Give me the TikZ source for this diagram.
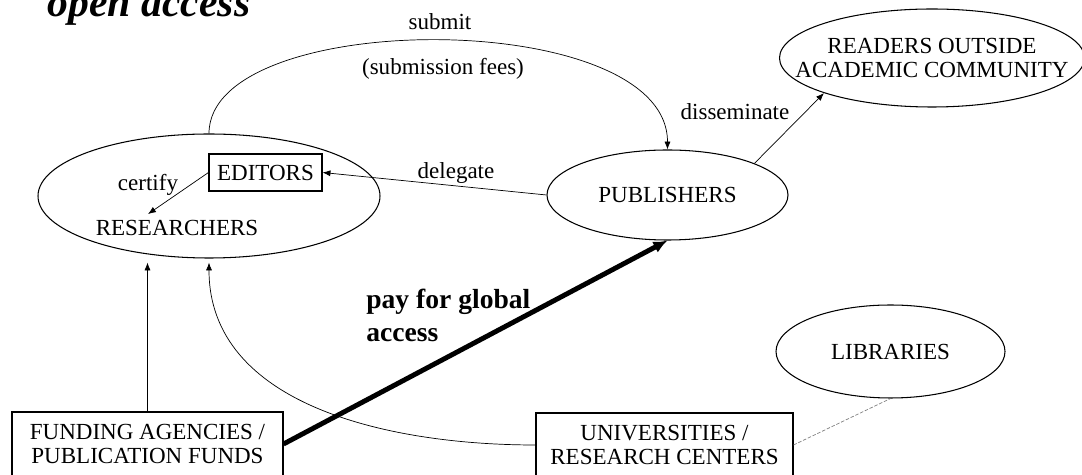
\documentclass[tikz,border=0pt]{standalone}
\usepackage{fontspec}
\setmainfont{Liberation Serif}
\usepackage{tikz}
\usetikzlibrary{shapes.geometric,arrows.meta}

\begin{document}
\begin{tikzpicture}[
    font=\fontsize{13.1}{14.2}\selectfont,
    >={Latex[length=4.5pt,width=3.5pt]},
    oval/.style={ellipse, draw, line width=0.6pt, inner sep=0pt},
    box/.style={rectangle, draw, line width=0.6pt, align=center, inner sep=0pt},
    link/.style={line width=0.4pt},
  ]

  \useasboundingbox (0,0) rectangle (21.64,9.5);

  \node[anchor=base, font=\fontsize{23.7}{26}\selectfont\bfseries\itshape] (title) at (2.98,9.16) {open access};

  % ellipses
  \node[oval, minimum width=6.84cm, minimum height=2.48cm] (res) at (4.18,5.58) {};
  \node (restxt) at (3.54,4.94) {RESEARCHERS};
  \node[box, minimum width=2.26cm, minimum height=0.74cm] (edit) at (5.31,6.05) {EDITORS};
  \node (certlbl) at (2.96,5.8) {certify};

  \node[oval, minimum width=4.82cm, minimum height=1.8cm] (pub) at (13.35,5.6) {PUBLISHERS};
  \node[oval, minimum width=6.1cm, minimum height=1.96cm] (read) at (18.64,8.34) {};
  \node[align=center] (readtxt) at (read) {READERS OUTSIDE\\ACADEMIC COMMUNITY};
  \node[oval, minimum width=4.58cm, minimum height=1.86cm] (lib) at (17.81,2.47) {LIBRARIES};

  % boxes
  \node[box, minimum width=5.42cm, minimum height=1.28cm] (fund) at (2.95,0.62) {FUNDING AGENCIES /\\PUBLICATION FUNDS};
  \node[box, minimum width=5.14cm, minimum height=1.28cm] (univ) at (13.29,0.6) {UNIVERSITIES /\\RESEARCH CENTERS};

  % labels
  \node (submit) at (8.8,9.06) {submit};
  \node (fees) at (8.86,8.12) {(submission fees)};
  \node (dellbl) at (9.12,6.04) {delegate};
  \node (dislbl) at (14.7,7.26) {disseminate};
  \node[anchor=west, inner sep=0pt, align=left, font=\fontsize{15.7}{18.8}\selectfont\bfseries] (paylbl) at (7.32,3.2) {pay for global\\access};

  % connectors
  \draw[link, ->] (edit.west) -- (certlbl |- restxt.north);
  \draw[link, ->] (pub.west) -- (edit.east);
  \draw[link, ->] (res.north) .. controls +(0,2.52) and +(0,2.86) .. (pub.north);
  \draw[link, ->] (pub.20) -- (read.198);
  \draw[link, ->, shorten >=0.08cm] (fund.north) -- (fund.north |- res.south);
  \draw[link, ->, shorten >=0.08cm] (univ.west) to[out=180, in=-90] (res.south);
  \draw[line width=2.8pt, -{Latex[length=8pt,width=7pt]}] (fund.east) -- (pub.south);
  \draw[link, gray, dash pattern=on 2pt off 1pt] (univ.east) -- (lib.south);

\end{tikzpicture}
\end{document}
